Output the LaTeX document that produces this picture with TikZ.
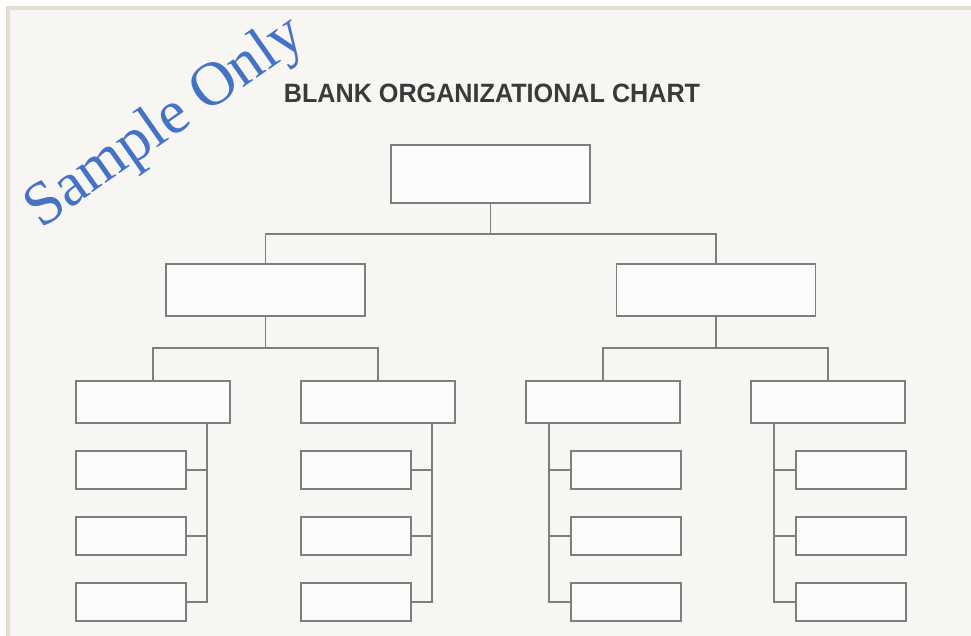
\documentclass[tikz,border=0pt]{standalone}
\usepackage{fontspec}
\setmainfont{Liberation Serif}
\newfontfamily\titlefont{Liberation Sans}
\definecolor{bgcream}{HTML}{F8F6F3}
\definecolor{framebeige}{HTML}{E4DDD1}
\definecolor{linegray}{HTML}{7E7E7E}
\definecolor{boxfill}{HTML}{FBFBFB}
\definecolor{titlegray}{HTML}{3A3A3A}
\definecolor{wmblue}{HTML}{4472C4}
\tikzset{
  orgbox/.style={draw=linegray, fill=boxfill, line width=1.2pt, inner sep=0pt, outer sep=0pt},
  bigbox/.style={orgbox, minimum width=199pt, minimum height=58pt},
  midbox/.style={orgbox, minimum width=199pt, minimum height=52pt},
  subbox/.style={orgbox, minimum width=154pt, minimum height=42pt},
  leafbox/.style={orgbox, minimum width=110pt, minimum height=38pt},
  conn/.style={draw=linegray, line width=1.2pt}
}
\begin{document}
\begin{tikzpicture}[x=1pt,y=-1pt]
\useasboundingbox (0,0) rectangle (971,635);
% page and frame
\fill[white] (0,0) rectangle (971,635);
\draw[framebeige, line width=4pt, fill=bgcream] (8,8) rectangle (985,650);
% title
\node[anchor=base, text=titlegray, inner sep=0pt] (title) at (492,102)
  {\titlefont\bfseries\fontsize{26.5}{30}\selectfont\scalebox{0.95}[1]{BLANK ORGANIZATIONAL CHART}};
% level 1
\node[bigbox] (top) at (490.5,174) {};
% level 2
\node[midbox] (L) at (265.5,290) {};
\node[midbox] (R) at (716,290) {};
% level 3
\node[subbox] (A) at (153,402) {};
\node[subbox] (B) at (378,402) {};
\node[subbox] (C) at (603,402) {};
\node[subbox] (D) at (828,402) {};
% level 4
\foreach \col/\cx in {A/131,B/356,C/626,D/851}{
  \node[leafbox] (\col1) at (\cx,470) {};
  \node[leafbox] (\col2) at (\cx,536) {};
  \node[leafbox] (\col3) at (\cx,602) {};
}
% connectors
\coordinate (j1) at (490.5,234);
\draw[conn] (top.south) -- (j1);
\draw[conn] (L.north) |- (j1) -| (R.north);
\coordinate (jL) at (265.5,348);
\coordinate (jR) at (716,348);
\draw[conn] (L.south) -- (jL);
\draw[conn] (A.north) |- (jL) -| (B.north);
\draw[conn] (R.south) -- (jR);
\draw[conn] (C.north) |- (jR) -| (D.north);
% buses
\foreach \col/\sh/\an in {A/-23/south east,B/-23/south east}{
  \draw[conn] ([xshift=\sh pt]\col.\an) |- (\col3.east);
  \draw[conn] (\col1.east) -| ([xshift=\sh pt]\col.\an);
  \draw[conn] (\col2.east) -| ([xshift=\sh pt]\col.\an);
}
\foreach \col/\sh/\an in {C/23/south west,D/23/south west}{
  \draw[conn] ([xshift=\sh pt]\col.\an) |- (\col3.west);
  \draw[conn] (\col1.west) -| ([xshift=\sh pt]\col.\an);
  \draw[conn] (\col2.west) -| ([xshift=\sh pt]\col.\an);
}
% watermark
\node[rotate=35, text=wmblue, inner sep=0pt] (wm) at (166,124)
  {\fontsize{62}{64}\selectfont Sample Only};
\end{tikzpicture}
\end{document}
